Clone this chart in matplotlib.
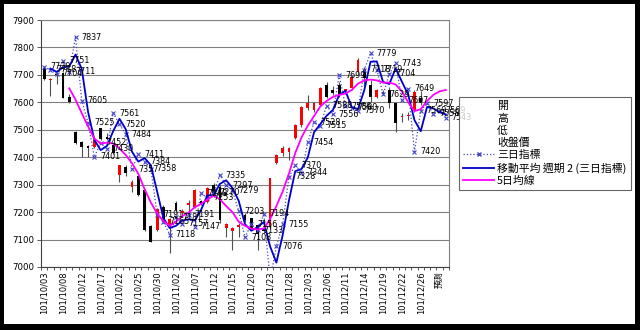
import matplotlib.pyplot as plt
from matplotlib.patches import Rectangle
from matplotlib.lines import Line2D
import numpy as np

plt.rcParams['font.family'] = ['DejaVu Sans', 'Noto Sans CJK TC']

# categories (trading days, 民國年)
dates = ['101/10/03', '101/10/04', '101/10/05', '101/10/08', '101/10/09', '101/10/11', '101/10/12',
         '101/10/15', '101/10/16', '101/10/17', '101/10/18', '101/10/19', '101/10/22', '101/10/23',
         '101/10/24', '101/10/25', '101/10/26', '101/10/29', '101/10/30', '101/10/31', '101/11/01',
         '101/11/02', '101/11/05', '101/11/06', '101/11/07', '101/11/08', '101/11/09', '101/11/12',
         '101/11/13', '101/11/14', '101/11/15', '101/11/16', '101/11/19', '101/11/20', '101/11/21',
         '101/11/22', '101/11/23', '101/11/26', '101/11/27', '101/11/28', '101/11/29', '101/11/30',
         '101/12/03', '101/12/04', '101/12/05', '101/12/06', '101/12/07', '101/12/10', '101/12/11',
         '101/12/12', '101/12/13', '101/12/14', '101/12/17', '101/12/18', '101/12/19', '101/12/20',
         '101/12/21', '101/12/22', '101/12/24', '101/12/25', '101/12/26', '101/12/27', '101/12/28',
         '預測', '']

# 開 高 低 收
opens = [7726, 7681, 7705, 7706, 7620, 7493, 7457, 7440, 7438, 7505, 7475, 7444, 7335, 7366, 7293, 7331,
         7280, 7149, 7135, 7220, 7147, 7232, 7195, 7226, 7220, 7240, 7238, 7299, 7293, 7141, 7132, 7147,
         7190, 7177, 7153, 7140, 7146, 7378, 7414, 7420, 7469, 7517, 7578, 7572, 7590, 7663, 7645, 7663,
         7640, 7651, 7712, 7720, 7663, 7620, 7636, 7645, 7596, 7545, 7550, 7572, 7615, None, None, None, None]
highs = [7730, 7687, 7712, 7710, 7630, 7495, 7460, 7445, 7465, 7508, 7487, 7447, 7373, 7372, 7316, 7335,
         7285, 7152, 7215, 7225, 7180, 7240, 7210, 7244, 7285, 7245, 7290, 7305, 7298, 7160, 7147, 7160,
         7195, 7180, 7158, 7145, 7326, 7410, 7440, 7438, 7520, 7585, 7627, 7600, 7655, 7675, 7660, 7675,
         7650, 7700, 7760, 7730, 7680, 7650, 7645, 7655, 7600, 7560, 7565, 7645, 7640, None, None, None, None]
lows = [7680, 7623, 7665, 7615, 7597, 7450, 7402, 7402, 7435, 7462, 7462, 7410, 7311, 7330, 7275, 7260,
        7130, 7090, 7130, 7160, 7050, 7200, 7185, 7196, 7215, 7225, 7235, 7256, 7160, 7110, 7062, 7110,
        7165, 7135, 7062, 7125, 7140, 7375, 7405, 7390, 7465, 7510, 7572, 7565, 7585, 7615, 7625, 7620,
        7630, 7645, 7705, 7660, 7600, 7615, 7625, 7580, 7493, 7530, 7535, 7565, 7590, None, None, None, None]
closes = [7684, 7685, 7700, 7616, 7600, 7453, 7438, 7435, 7463, 7465, 7465, 7414, 7372, 7341, 7308, 7262,
          7135, 7092, 7210, 7165, 7174, 7208, 7205, 7234, 7280, 7230, 7287, 7268, 7171, 7157, 7141, 7153,
          7170, 7141, 7122, 7130, 7324, 7408, 7432, 7432, 7517, 7582, 7596, 7596, 7651, 7621, 7633, 7627,
          7648, 7694, 7754, 7687, 7620, 7645, 7632, 7596, 7523, 7550, 7555, 7639, 7600, None, None, None, None]

# 三日指標
tri = [7729, 7718, 7704, 7751, 7711, 7837, 7605, 7525, 7401, 7452, 7430, 7561, 7520, 7484, 7357, 7411,
       7384, 7358, 7191, 7165, 7118, 7181, 7157, 7191, 7147, 7268, 7253, 7270, 7335, 7297, 7279, 7203,
       7108, 7156, 7133, 7194, 6955, 7076, 7155, 7328, 7370, 7344, 7454, 7528, 7515, 7588, 7556, 7699,
       7586, 7580, 7570, 7718, 7779, 7719, 7629, 7704, 7743, 7607, 7649, 7420, 7569, 7597, 7558, 7569, 7543]

# 移動平均 週期 2 (三日指標)
ma2 = [None, 7723, 7711, 7727, 7731, 7774, 7721, 7565, 7463, 7426, 7441, 7495, 7540, 7502, 7420, 7384,
       7397, 7371, 7275, 7178, 7142, 7150, 7169, 7174, 7169, 7208, 7261, 7262, 7303, 7316, 7288, 7241,
       7156, 7132, 7145, 7164, 7075, 7016, 7116, 7242, 7349, 7357, 7399, 7491, 7521, 7551, 7572, 7627,
       7642, 7583, 7575, 7644, 7748, 7749, 7674, 7667, 7724, 7675, 7628, 7535, 7495, 7583, 7578, 7564, 7556]

# 5日均線
ma5 = [None, None, None, None, 7651, 7610, 7560, 7512, 7468, 7450, 7453, 7450, 7432, 7408, 7378, 7340,
       7284, 7235, 7195, 7168, 7150, 7165, 7185, 7198, 7218, 7230, 7246, 7260, 7247, 7222, 7200, 7165,
       7150, 7140, 7137, 7140, 7175, 7222, 7275, 7340, 7415, 7472, 7515, 7550, 7585, 7605, 7620, 7627,
       7632, 7645, 7668, 7680, 7683, 7680, 7672, 7672, 7665, 7640, 7600, 7568, 7575, 7605, 7627, 7640, 7645]

x = np.arange(len(dates))
f = lambda a: np.array([np.nan if v is None else v for v in a], dtype=float)

fig = plt.figure(figsize=(6.4, 3.3), dpi=100, facecolor='black')
fig.add_artist(Rectangle((4 / 640, 6 / 330), 631 / 640, 320 / 330, transform=fig.transFigure,
                         facecolor='white', edgecolor='none', zorder=0))
ax = fig.add_axes([41 / 640, 63 / 330, 408 / 640, 247 / 330])
ax.set_facecolor('white')

# candles
for i in range(len(dates)):
    o, h, l, c = opens[i], highs[i], lows[i], closes[i]
    if o is None:
        continue
    ax.vlines(i, l, h, color='#505050', lw=0.8, zorder=2)
    lo = min(o, c)
    ht = max(abs(c - o), 3)
    ax.add_patch(Rectangle((i - 0.22, lo), 0.44, ht, facecolor='red' if c >= o else 'black',
                           edgecolor='none', zorder=3))

ax.plot(x, f(tri), linestyle=':', color='#4646c8', lw=0.9, marker='x', markersize=3.5,
        markeredgewidth=0.8, zorder=4)
ax.plot(x, f(ma2), color='#0000cc', lw=1.3, zorder=5)
ax.plot(x, f(ma5), color='#ff00ff', lw=1.3, zorder=5)

for i, v in enumerate(tri):
    if v >= 7000:
        ax.annotate(str(v), (i, v), xytext=(4.3, 0), textcoords='offset points', va='center',
                    ha='left', fontsize=5.8, zorder=6, annotation_clip=False)

ax.set_xlim(-0.5, len(dates) - 0.5)
ax.set_ylim(7000, 7900)
ax.set_yticks(np.arange(7000, 7901, 100))
ax.yaxis.grid(True, color='#808080', lw=0.8)
ax.set_axisbelow(True)
ax.tick_params(axis='y', labelsize=6.2, length=3, width=0.6, color='#404040', pad=2)

ax.set_xticks(x[::3])
ax.set_xticklabels(dates[::3], rotation=90, fontsize=6, va='top', ha='center')
ax.set_xticks(np.arange(-0.5, len(dates), 1), minor=True)
ax.tick_params(axis='x', which='major', length=0, pad=3)
ax.tick_params(axis='x', which='minor', length=2, width=0.6, color='#404040')
for s in ['top', 'right']:
    ax.spines[s].set_color('#808080')
for s in ['left', 'bottom']:
    ax.spines[s].set_color('#404040')

handles = [Line2D([], [], linestyle='none'), Line2D([], [], linestyle='none'),
           Line2D([], [], linestyle='none'), Line2D([], [], linestyle='none'),
           Line2D([], [], linestyle=':', color='#4646c8', marker='x', markersize=3.5, lw=0.9),
           Line2D([], [], color='#0000cc', lw=1.3),
           Line2D([], [], color='#ff00ff', lw=1.3)]
names = ['開', '高', '低', '收盤價', '三日指標', '移動平均 週期 2 (三日指標)', '5日均線']
leg = fig.legend(handles, names, loc='upper left', bbox_to_anchor=(459 / 640, 1 - 97 / 330),
                 prop={'family': ['Noto Sans CJK TC', 'DejaVu Sans'], 'size': 7.8},
                 frameon=True, fancybox=False, edgecolor='#404040', borderpad=0.4,
                 handlelength=2.8, handletextpad=0.3, labelspacing=0.18, borderaxespad=0)
leg.get_frame().set_linewidth(0.8)

fig.savefig('out.png', dpi=100, facecolor=fig.get_facecolor())
